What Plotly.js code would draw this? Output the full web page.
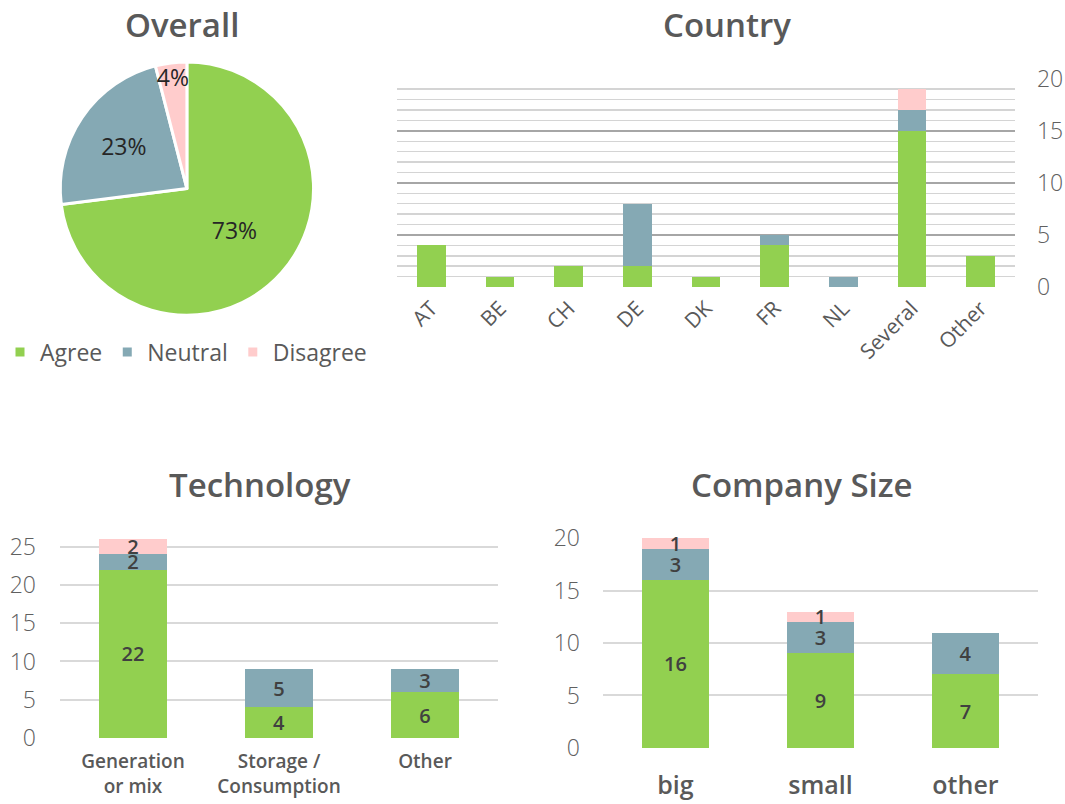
<!DOCTYPE html>
<html>
<head>
<meta charset="utf-8">
<script src="https://cdn.plot.ly/plotly-3.0.1.min.js"></script>
<style>html,body{margin:0;padding:0;background:#fff;}#chart{width:1065px;height:804px;}</style>
</head>
<body>
<div id="chart"></div>
<script>
// ---- data ----
const statusLabels = ["Agree", "Neutral", "Disagree"];
const overallPercent = [73, 23, 4];

const countryCategories = ["AT", "BE", "CH", "DE", "DK", "FR", "NL", "Several", "Other"];
const countryAgree    = [4, 1, 2, 2, 1, 4, 0, 15, 3];
const countryNeutral  = [0, 0, 0, 6, 0, 1, 1, 2, 0];
const countryDisagree = [0, 0, 0, 0, 0, 0, 0, 2, 0];

const techCategories = ["Generation<br>or mix", "Storage /<br>Consumption", "Other"];
const techAgree    = [22, 4, 6];
const techNeutral  = [2, 5, 3];
const techDisagree = [2, 0, 0];

const sizeCategories = ["big", "small", "other"];
const sizeAgree    = [16, 9, 7];
const sizeNeutral  = [3, 3, 4];
const sizeDisagree = [1, 1, 0];

// ---- style ----
const colors = ["#92D050", "#85A9B4", "#FFCCCC"];
const FONT = "'Open Sans', Lato, sans-serif";
const GREY = "#595959";
const lbl = v => v.map(x => x > 0 ? String(x) : "");

const traces = [];
traces.push({
  type: "pie", labels: statusLabels, values: overallPercent,
  sort: false, direction: "clockwise", rotation: 0,
  marker: {colors: colors, line: {color: "#fff", width: 3}},
  textinfo: "percent", textposition: "inside", insidetextorientation: "horizontal",
  textfont: {family: FONT, size: 23, color: "#262626", weight: 500},
  domain: {x: [0.056, 0.295], y: [0.608, 0.923]},
  showlegend: true, hoverinfo: "label+percent"
});

function addStack(cats, series, xa, ya, w, withText) {
  series.forEach((vals, i) => {
    traces.push({
      type: "bar", x: cats, y: vals, xaxis: xa, yaxis: ya, width: w,
      marker: {color: colors[i]}, name: statusLabels[i], showlegend: false,
      text: withText ? lbl(vals) : undefined,
      textposition: withText ? "inside" : "none", textangle: 0,
      insidetextanchor: "middle", constraintext: "none", cliponaxis: false,
      textfont: {family: FONT, size: 20, color: "#404040", weight: 600},
      hoverinfo: "x+y+name"
    });
  });
}
addStack(countryCategories, [countryAgree, countryNeutral, countryDisagree], "x", "y", 0.42, false);
addStack(techCategories, [techAgree, techNeutral, techDisagree], "x2", "y2", 0.47, true);
addStack(sizeCategories, [sizeAgree, sizeNeutral, sizeDisagree], "x3", "y3", 0.46, true);

const tickFont = {family: FONT, size: 23, color: "#606060", weight: 300};
const layout = {
  width: 1065, height: 804, autosize: false,
  margin: {l: 0, r: 0, t: 0, b: 0},
  paper_bgcolor: "#fff", plot_bgcolor: "#fff",
  barmode: "stack",
  font: {family: FONT, color: GREY},
  uniformtext: {mode: "show", minsize: 20},
  legend: {orientation: "h", x: 0, xanchor: "left", y: 0.562, yanchor: "middle",
           font: {family: FONT, size: 23, color: GREY, weight: 500}, itemwidth: 30, traceorder: "normal"},
  xaxis: {domain: [0.3728, 0.953], anchor: "y", tickangle: -45, tickfont: {family: FONT, size: 21, color: GREY},
          showline: false, showgrid: false, zeroline: false, ticks: "", ticklabelstandoff: 4},
  yaxis: {domain: [0.643, 0.902], anchor: "x", side: "right", range: [0, 20], dtick: 5,
          tickfont: tickFont, ticklabelstandoff: 21,
          showgrid: true, gridcolor: "#a6a6a6", gridwidth: 2, zeroline: false, showline: false,
          minor: {dtick: 1, showgrid: true, gridcolor: "#d4d4d4", gridwidth: 1.5}},
  xaxis2: {domain: [0.0563, 0.4676], anchor: "y2", tickfont: {family: FONT, size: 19, color: GREY, weight: 600},
           showgrid: false, zeroline: false, showline: false, ticks: "", ticklabelstandoff: 10},
  yaxis2: {domain: [0.0821, 0.3296], anchor: "x2", range: [0, 26], dtick: 5, tickfont: tickFont,
           showgrid: true, gridcolor: "#d9d9d9", gridwidth: 2, zeroline: false, ticklabelstandoff: 23},
  xaxis3: {domain: [0.5662, 0.9746], anchor: "y3", tickfont: {family: FONT, size: 25, color: GREY, weight: 600},
           showgrid: false, zeroline: false, showline: false, ticks: "", ticklabelstandoff: 20},
  yaxis3: {domain: [0.0697, 0.3308], anchor: "x3", range: [0, 20], dtick: 5, tickfont: tickFont,
           showgrid: true, gridcolor: "#d9d9d9", gridwidth: 2, zeroline: false, ticklabelstandoff: 22},
  annotations: [
    {text: "Overall", x: 0.171, y: 0.969},
    {text: "Country", x: 0.683, y: 0.969},
    {text: "Technology", x: 0.244, y: 0.397},
    {text: "Company Size", x: 0.753, y: 0.397}
  ].map(a => Object.assign({xref: "paper", yref: "paper", showarrow: false, xanchor: "center", yanchor: "middle",
        font: {family: FONT, size: 33, color: GREY, weight: 600}}, a))
};

Plotly.newPlot("chart", traces, layout, {displayModeBar: false, staticPlot: true});
</script>
</body>
</html>
